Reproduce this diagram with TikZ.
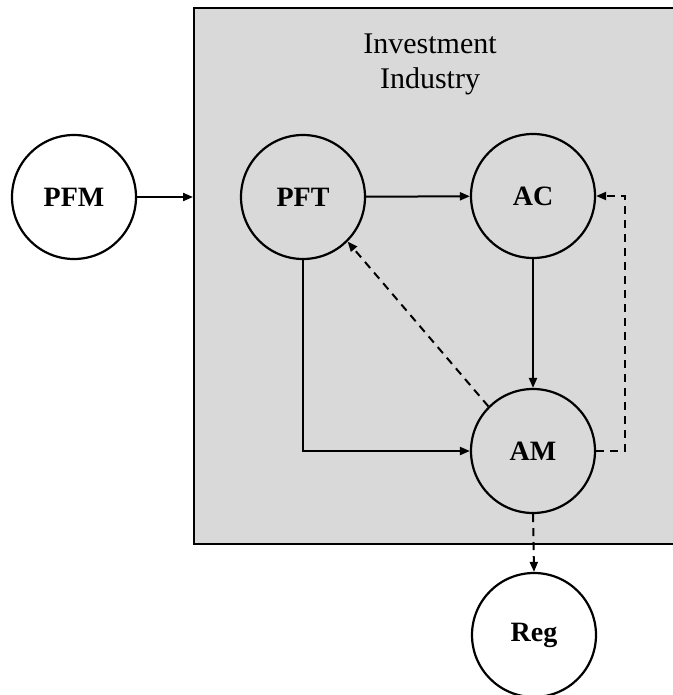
\documentclass[tikz,border=0pt]{standalone}
\usepackage{fontspec}
\setmainfont{Liberation Serif}
\usetikzlibrary{arrows.meta}
\definecolor{boxgray}{RGB}{217,217,217}
\begin{document}
\begin{tikzpicture}[x=1pt,y=-1pt,
  circ/.style={circle,draw,line width=2.2pt,minimum size=124pt,inner sep=0pt,font=\fontsize{28}{30}\selectfont\bfseries},
  arr/.style={line width=2pt,-{Triangle[length=10pt,width=8pt]}},
  darr/.style={arr,dash pattern=on 8pt off 6pt}]
\useasboundingbox (0,0) rectangle (672,695);
\node[draw,fill=boxgray,line width=2.2pt,minimum width=500pt,minimum height=536pt,anchor=north west,inner sep=0pt] (box) at (193,7) {};
\node[font=\fontsize{30}{35}\selectfont,align=center] (title) at (430,64) {Investment\\Industry};
\node[circ,fill=white] (pfm) at (74,197) {PFM};
\node[circ] (pft) at (303,197) {PFT};
\node[circ] (ac) at (533,196) {AC};
\node[circ] (am) at (533,451) {AM};
\node[circ,fill=white] (reg) at (534,635) {Reg};
\coordinate (boxin) at (box.west |- pfm.east);
\draw[arr] (pfm.east) -- (boxin);
\draw[arr] (pft) -- (ac);
\draw[arr] (ac) -- (am);
\draw[arr] (pft.south) |- (am.west);
\draw[darr] (am.135) -- (pft.-45);
\coordinate (rt) at (625,451);
\draw[darr] (am.east) -- (rt) |- (ac.east);
\draw[darr] (am.south) -- (reg.north);
\end{tikzpicture}
\end{document}
